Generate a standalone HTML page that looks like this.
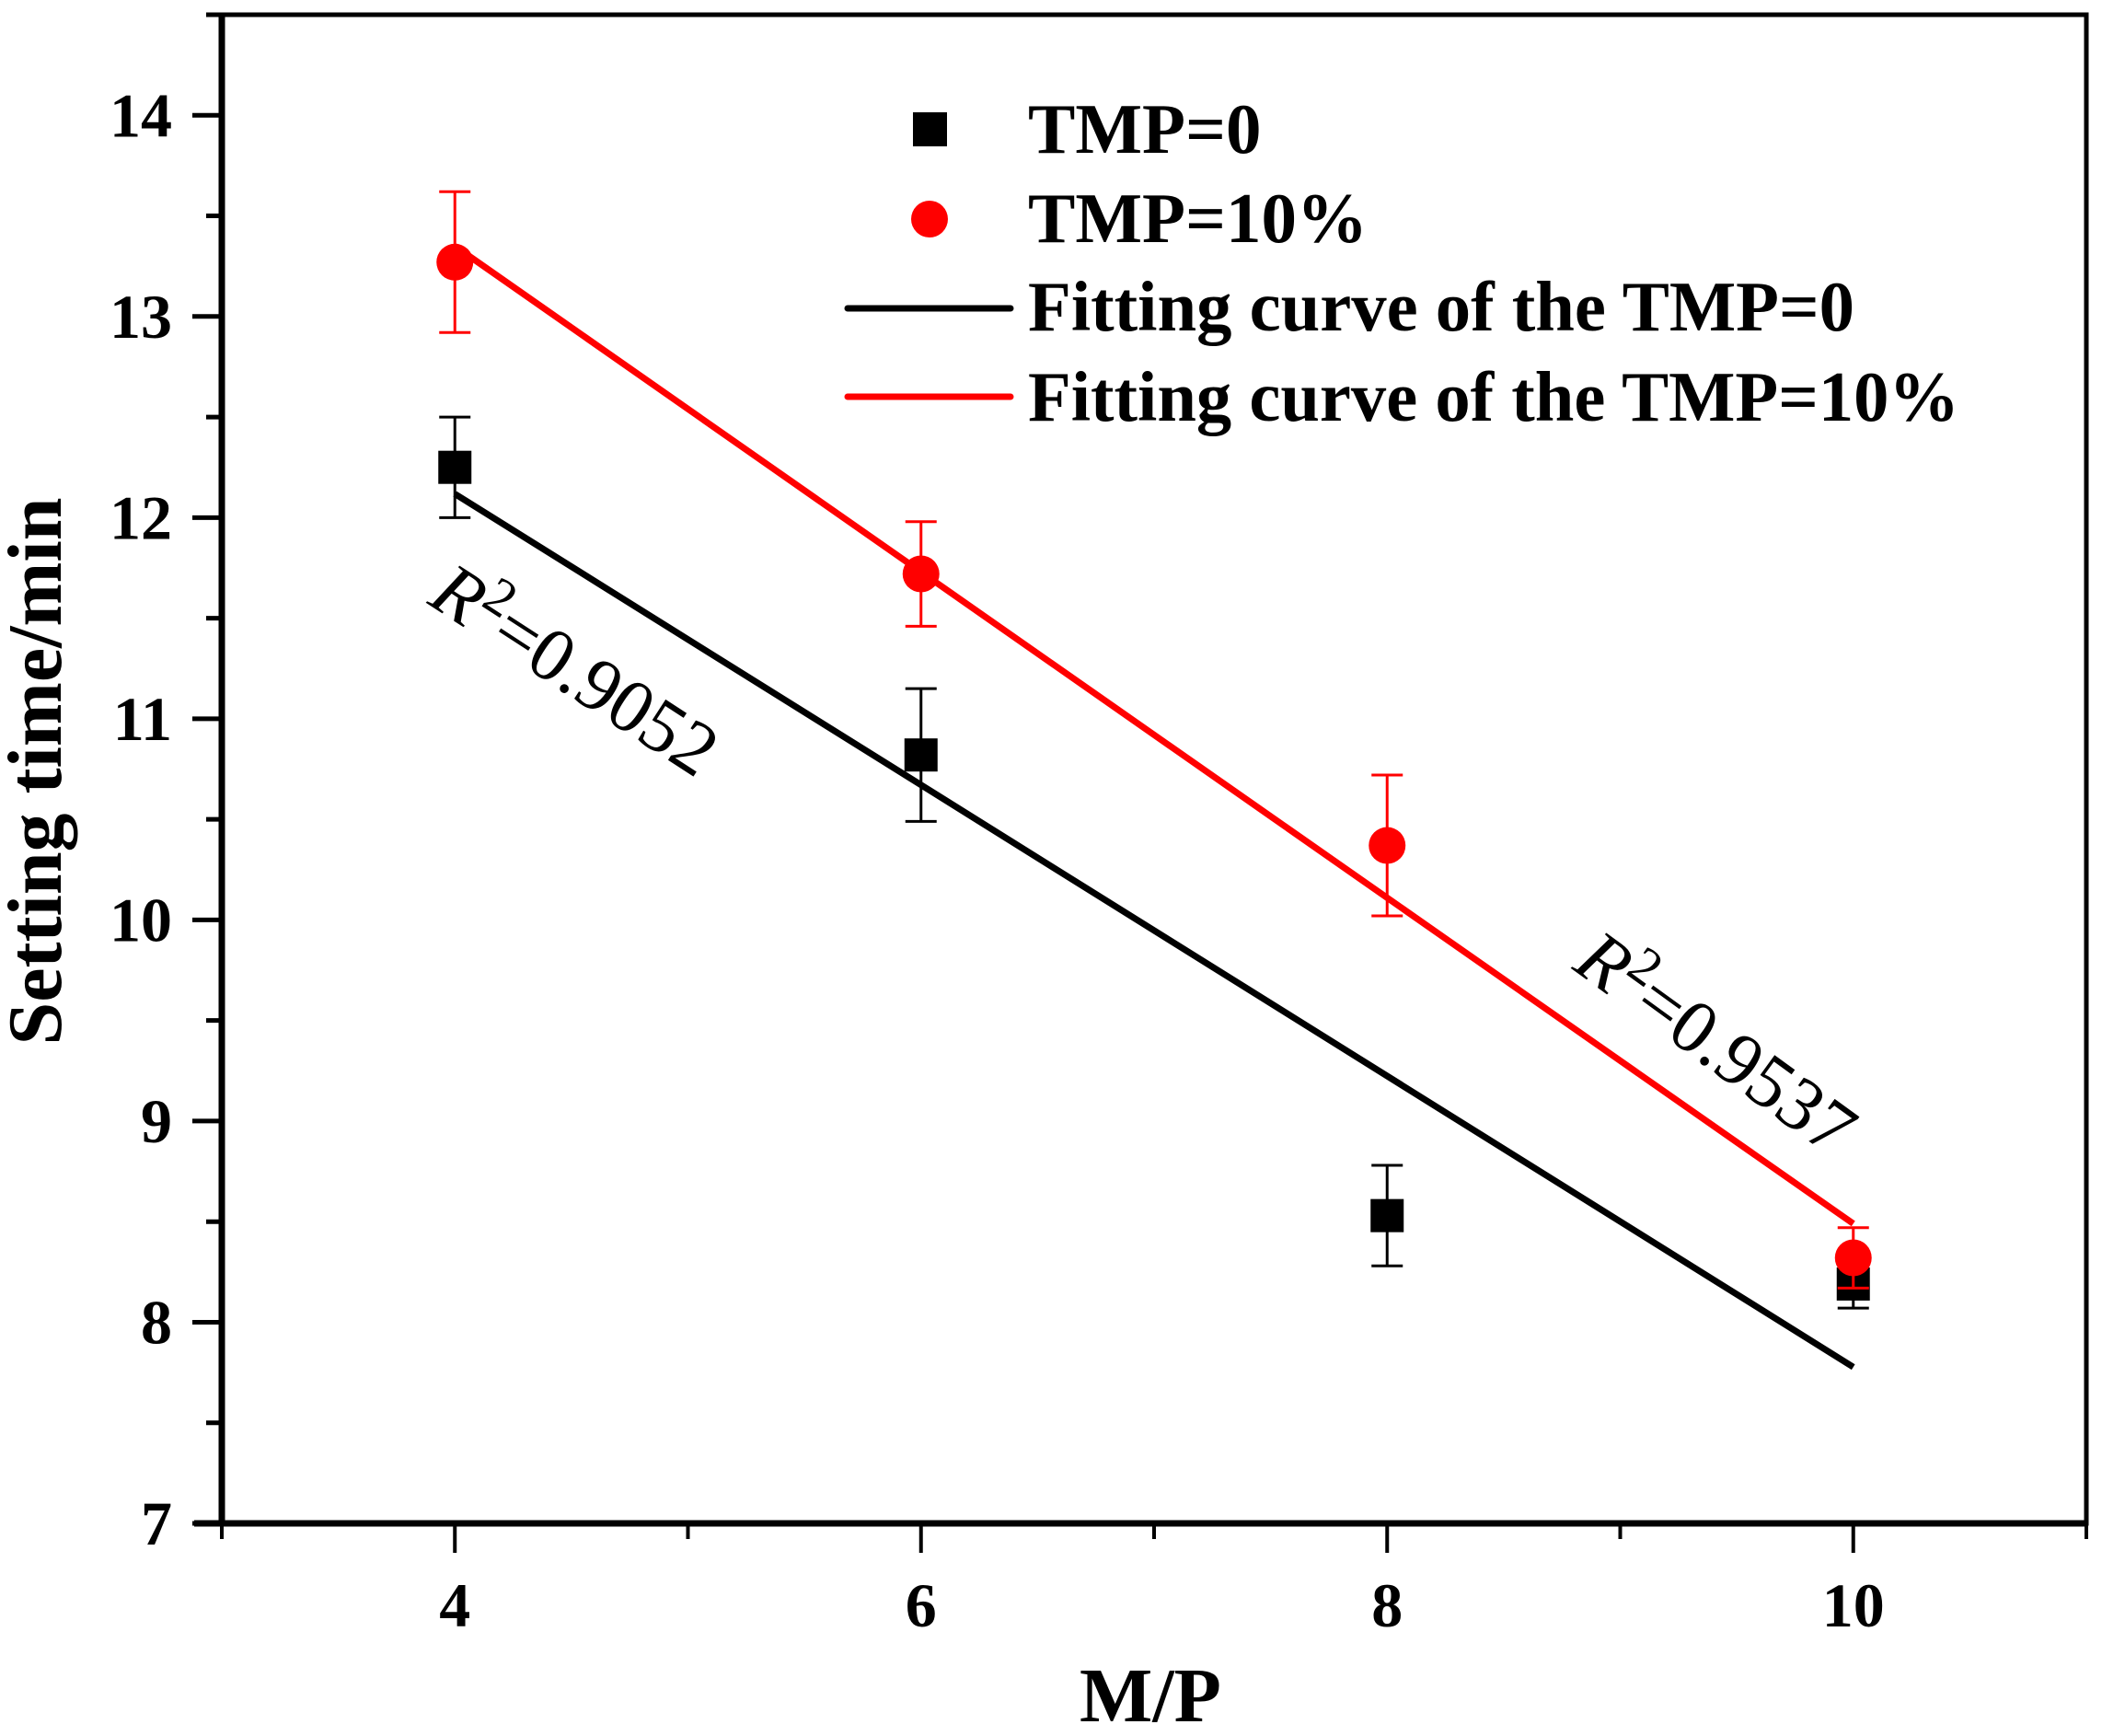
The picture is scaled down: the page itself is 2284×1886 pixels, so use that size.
<!DOCTYPE html>
<html><head><meta charset="utf-8"><style>
html,body{margin:0;padding:0;background:#fff}
svg{display:block}
text{font-family:"Liberation Serif",serif}
</style></head><body>
<svg id="chart" width="2284" height="1886" viewBox="0 0 2284 1886" xmlns="http://www.w3.org/2000/svg">
<g id="axes"></g>
<g id="marks"></g>
<g id="legend">
  <rect x="992" y="122" width="37" height="37" fill="#000"/>
  <text x="1117" y="166" font-size="77" font-weight="bold">TMP=0</text>
  <circle cx="1010" cy="238" r="20" fill="#f00"/>
  <text x="1117" y="263" font-size="77" font-weight="bold">TMP=10%</text>
  <line x1="921" y1="335" x2="1098" y2="335" stroke="#000" stroke-width="7" stroke-linecap="round"/>
  <text x="1117" y="359" font-size="77" font-weight="bold" textLength="898" lengthAdjust="spacingAndGlyphs">Fitting curve of the TMP=0</text>
  <line x1="921" y1="431" x2="1098" y2="431" stroke="#f00" stroke-width="7" stroke-linecap="round"/>
  <text x="1117" y="457" font-size="77" font-weight="bold" textLength="1012" lengthAdjust="spacingAndGlyphs">Fitting curve of the TMP=10%</text>
</g>
<text font-size="82" transform="translate(463,655) rotate(33)"><tspan font-style="italic">R</tspan><tspan dy="-30" font-size="58">2</tspan><tspan dy="30">=0.9052</tspan></text>
<text font-size="82" transform="translate(1707,1052) rotate(36)"><tspan font-style="italic">R</tspan><tspan dy="-30" font-size="58">2</tspan><tspan dy="30">=0.9537</tspan></text>
<text x="1250" y="1870" font-size="84" font-weight="bold" text-anchor="middle">M/P</text>
<text font-size="84" font-weight="bold" text-anchor="middle" transform="translate(66,838) rotate(-90)">Setting time/min</text>
</svg>
<script>
const categories = [4, 6, 8, 10];
const tmp0Values = [12.25, 10.82, 8.53, 8.19];
const tmp0Errors = [0.25, 0.33, 0.25, 0.12];
const tmp10Values = [13.27, 11.72, 10.37, 8.32];
const tmp10Errors = [0.35, 0.26, 0.35, 0.15];
const xTickLabels = [4, 6, 8, 10];
const yTickLabels = [7, 8, 9, 10, 11, 12, 13, 14];

const NS = 'http://www.w3.org/2000/svg';
const L = 241, R = 2267, T = 16, B = 1655;
const xMin = 3, xMax = 11, yMin = 7, yMax = 14.5;
const sx = v => L + (v - xMin) / (xMax - xMin) * (R - L);
const sy = v => B - (v - yMin) / (yMax - yMin) * (B - T);
function mk(tag, attrs, parent) {
  const e = document.createElementNS(NS, tag);
  for (const k in attrs) e.setAttribute(k, attrs[k]);
  parent.appendChild(e);
  return e;
}
const axes = document.getElementById('axes');
const marks = document.getElementById('marks');

let fr = mk('rect', {x: L, y: T, width: R - L, height: B - T, fill: 'none', stroke: '#000', 'stroke-width': 5}, axes);


let xa = mk('line', {x1: L - 30, y1: B, x2: R, y2: B, stroke: '#000', 'stroke-width': 7}, axes);


let ya = mk('line', {x1: L, y1: T, x2: L, y2: B, stroke: '#000', 'stroke-width': 7}, axes);



for (let v = xMin; v <= xMax; v++) {
  const major = v % 2 === 0;
  const t = mk('line', {x1: sx(v), y1: B, x2: sx(v), y2: B + (major ? 32 : 17), stroke: '#000', 'stroke-width': 4}, axes);
  
  
}
xTickLabels.forEach(v => {
  const t = mk('text', {x: sx(v), y: 1767, 'font-size': 68, 'font-weight': 'bold', 'text-anchor': 'middle'}, axes);
  t.textContent = v;
  
  
});
for (let v = yMin; v <= yMax + 0.001; v += 0.5) {
  const major = Math.abs(v - Math.round(v)) < 0.01;
  const t = mk('line', {x1: L - (major ? 32 : 17), y1: sy(v), x2: L, y2: sy(v), stroke: '#000', 'stroke-width': 5}, axes);
  
  
}
yTickLabels.forEach(v => {
  const t = mk('text', {x: 187, y: sy(v) + 23, 'font-size': 68, 'font-weight': 'bold', 'text-anchor': 'end'}, axes);
  t.textContent = v;
  
  
});

function fit(vals) {
  const n = categories.length;
  const mx = categories.reduce((a, b) => a + b, 0) / n;
  const my = vals.reduce((a, b) => a + b, 0) / n;
  let num = 0, den = 0;
  categories.forEach((x, i) => { num += (x - mx) * (vals[i] - my); den += (x - mx) * (x - mx); });
  const s = num / den;
  return x => my + s * (x - mx);
}
const x0 = categories[0], x1 = categories[categories.length - 1];
const f0 = fit(tmp0Values), f10 = fit(tmp10Values);
let fl0 = mk('line', {x1: sx(x0), y1: sy(f0(x0)), x2: sx(x1), y2: sy(f0(x1)), stroke: '#000', 'stroke-width': 7}, marks);


let fl10 = mk('line', {x1: sx(x0), y1: sy(f10(x0)), x2: sx(x1), y2: sy(f10(x1)), stroke: '#f00', 'stroke-width': 7}, marks);



function errbar(x, v, e, color, w, name) {
  const g = mk('g', {stroke: color, 'stroke-width': w}, marks);
  
  
  const X = sx(x);
  mk('line', {x1: X, y1: sy(v + e), x2: X, y2: sy(v - e)}, g);
  mk('line', {x1: X - 17, y1: sy(v + e), x2: X + 17, y2: sy(v + e)}, g);
  mk('line', {x1: X - 17, y1: sy(v - e), x2: X + 17, y2: sy(v - e)}, g);
}
categories.forEach((x, i) => {
  errbar(x, tmp0Values[i], tmp0Errors[i], '#000', 3, 'errorbar-tmp0');
  const r = mk('rect', {x: sx(x) - 18, y: sy(tmp0Values[i]) - 18, width: 36, height: 36, fill: '#000'}, marks);
  
  
});
categories.forEach((x, i) => {
  errbar(x, tmp10Values[i], tmp10Errors[i], '#f00', 3, 'errorbar-tmp10');
  const c = mk('circle', {cx: sx(x), cy: sy(tmp10Values[i]), r: 20, fill: '#f00'}, marks);
  
  
});
</script>
</body></html>
